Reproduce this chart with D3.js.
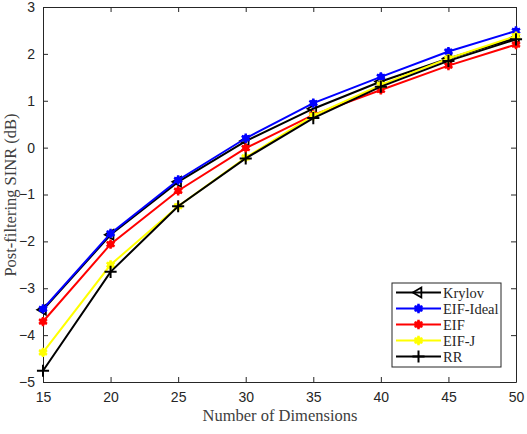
<!DOCTYPE html>
<html>
<head>
<meta charset="utf-8">
<script src="https://cdn.jsdelivr.net/npm/d3@7"></script>
<style>
body { margin: 0; background: #fff; }
.tick text { font-family: "Liberation Sans", Arial, sans-serif; font-size: 14px; fill: #262626; }
.axislabel { font-family: "Liberation Serif", "DejaVu Serif", serif; font-size: 16.5px; fill: #404040; }
.legend text { font-family: "Liberation Serif", "DejaVu Serif", serif; font-size: 14.5px; fill: #262626; }
</style>
</head>
<body>
<script>
var dims = [15, 20, 25, 30, 35, 40, 45, 50];
var krylov   = [-3.46, -1.86, -0.73, 0.14, 0.83, 1.41, 1.90, 2.34];
var eifIdeal = [-3.44, -1.83, -0.69, 0.20, 0.95, 1.51, 2.05, 2.49];
var eif      = [-3.71, -2.06, -0.92, -0.01, 0.70, 1.23, 1.75, 2.20];
var eifJ     = [-4.37, -2.50, -1.25, -0.21, 0.68, 1.34, 1.90, 2.38];
var rr       = [-4.76, -2.65, -1.25, -0.23, 0.63, 1.30, 1.85, 2.31];
var xTicks = [15, 20, 25, 30, 35, 40, 45, 50];
var yTicks = [-5, -4, -3, -2, -1, 0, 1, 2, 3];

var series = [
  {name: "Krylov", values: krylov, color: "#000000", marker: "tri"},
  {name: "EIF-Ideal", values: eifIdeal, color: "#0000ff", marker: "star"},
  {name: "EIF", values: eif, color: "#ff0000", marker: "star"},
  {name: "EIF-J", values: eifJ, color: "#ffff00", marker: "star"},
  {name: "RR", values: rr, color: "#000000", marker: "plus"}
];

var W = 527, H = 434;
var plotLeft = 43, plotRight = 516, plotTop = 7, plotBottom = 382;

var xScale = d3.scaleLinear().domain([15, 50]).range([plotLeft, plotRight]);
var yScale = d3.scaleLinear().domain([-5, 3]).range([plotBottom, plotTop]);

var svg = d3.select("body").append("svg")
    .attr("width", W)
    .attr("height", H);

var line = d3.line()
    .x(function(d){ return xScale(d.x); })
    .y(function(d){ return yScale(d.y); });

var drawMarker = function(g, type, color, x, y){
    if (type === "tri") {
        g.append("path")
            .attr("d", d3.symbol().type(d3.symbolTriangle2).size(70)())
            .attr("transform", "translate(" + x + "," + y + ") rotate(-90)")
            .attr("fill", "none").attr("stroke", color).attr("stroke-width", 1.8);
    } else if (type === "star") {
        g.append("path")
            .attr("d", d3.symbol().type(d3.symbolAsterisk).size(60)())
            .attr("transform", "translate(" + x + "," + y + ")")
            .attr("fill", "none").attr("stroke", color).attr("stroke-width", 2.5);
        g.append("circle").attr("cx", x).attr("cy", y).attr("r", 3.5).attr("fill", color);
    } else {
        g.append("path")
            .attr("d", d3.symbol().type(d3.symbolPlus).size(50)())
            .attr("transform", "translate(" + x + "," + y + ")")
            .attr("fill", "none").attr("stroke", color).attr("stroke-width", 2);
    }
};

// axes box
var xAxis = d3.axisBottom(xScale).tickValues(xTicks).tickSizeInner(-5).tickSizeOuter(0).tickPadding(10);
var yAxis = d3.axisLeft(yScale).tickValues(yTicks).tickSizeInner(-5).tickSizeOuter(0).tickPadding(8);
svg.append("g").attr("transform", "translate(0," + plotBottom + ")").call(xAxis);
svg.append("g").attr("transform", "translate(" + plotLeft + ",0)").call(yAxis);
svg.append("g").attr("transform", "translate(0," + plotTop + ")")
    .call(d3.axisTop(xScale).tickValues(xTicks).tickSizeInner(-5).tickSizeOuter(0).tickFormat(""));
svg.append("g").attr("transform", "translate(" + plotRight + ",0)")
    .call(d3.axisRight(yScale).tickValues(yTicks).tickSizeInner(-5).tickSizeOuter(0).tickFormat(""));
svg.selectAll(".domain, .tick line").attr("stroke", "#262626").attr("stroke-width", 1);

// lines and markers
series.forEach(function(s){
    var pts = dims.map(function(d, i){ return {x: d, y: s.values[i]}; });
    svg.append("path").datum(pts)
        .attr("d", line)
        .attr("fill", "none")
        .attr("stroke", s.color)
        .attr("stroke-width", 2);
    var mg = svg.append("g");
    pts.forEach(function(p){ drawMarker(mg, s.marker, s.color, xScale(p.x), yScale(p.y)); });
});

// axis labels
svg.append("text").attr("class", "axislabel")
    .attr("x", 280).attr("y", 421)
    .attr("text-anchor", "middle")
    .text("Number of Dimensions");
svg.append("text").attr("class", "axislabel")
    .attr("transform", "translate(16,195) rotate(-90)")
    .attr("text-anchor", "middle")
    .text("Post-filtering SINR (dB)");

// legend
var lg = svg.append("g").attr("class", "legend");
lg.append("rect").attr("x", 392).attr("y", 283).attr("width", 109).attr("height", 84)
    .attr("fill", "#fff").attr("stroke", "#262626").attr("stroke-width", 1);
series.forEach(function(s, i){
    var y = 292.5 + i * 16;
    lg.append("line").attr("x1", 396).attr("x2", 441).attr("y1", y).attr("y2", y)
        .attr("stroke", s.color).attr("stroke-width", 2);
    drawMarker(lg, s.marker, s.color, 418.5, y);
    lg.append("text").attr("x", 443).attr("y", y + 5).text(s.name);
});
</script>
</body>
</html>
